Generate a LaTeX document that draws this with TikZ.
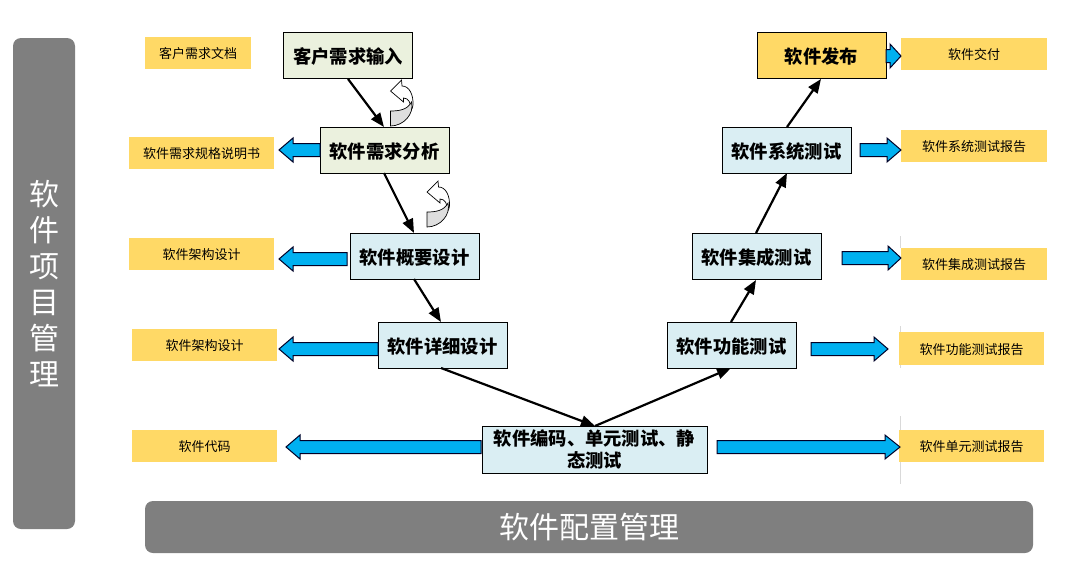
\documentclass[tikz,border=0pt]{standalone}
\usepackage{fontspec}
\setmainfont{Noto Sans CJK SC}
\usetikzlibrary{arrows.meta}
\definecolor{panelgray}{HTML}{7F7F7F}
\definecolor{noteyellow}{HTML}{FFD966}
\definecolor{stepgreen}{HTML}{EBF1DE}
\definecolor{stepblue}{HTML}{DAEEF3}
\definecolor{arrowblue}{HTML}{00B0F0}
\tikzset{
  stepbox/.style={draw=black,line width=1pt,minimum width=129pt,minimum height=46pt,inner sep=0pt,align=center,font=\fontsize{18.3}{22}\selectfont\bfseries},
  oneline/.style={text height=18pt,text depth=2pt},
  greenbox/.style={stepbox,oneline,fill=stepgreen},
  bluebox/.style={stepbox,oneline,fill=stepblue},
  widebox/.style={stepbox,fill=stepblue,minimum width=225pt,minimum height=47pt},
  yellowbox/.style={stepbox,oneline,fill=noteyellow},
  note/.style={fill=noteyellow,minimum width=145pt,minimum height=32pt,inner sep=0pt,text height=13.4pt,text depth=1.6pt,font=\fontsize{13}{15}\selectfont},
  flow/.style={-{Triangle[length=14pt,width=11pt]},line width=2.2pt,black},
  panel/.style={fill=panelgray,rounded corners=8pt,text=white,inner sep=0pt,align=center},
  blockarrow/.style={fill=arrowblue,draw=black!85!blue,line width=1pt,line join=miter},
  guide/.style={draw=black!15,line width=0.8pt},
  turnlight/.style={fill=white,draw=black,line width=0.7pt},
  turndark/.style={fill=black!13,draw=black,line width=0.7pt}
}
% horizontal block arrow: tail x, tip x, y, head base x
\newcommand{\blockarrowh}[4]{%
  \draw[blockarrow] (#1,#3-6.5) -- (#4,#3-6.5) -- (#4,#3-12) -- (#2,#3) -- (#4,#3+12) -- (#4,#3+6.5) -- (#1,#3+6.5) -- cycle;}
% curved U-turn symbol, origin at its lower left corner
\newcommand{\turnarrow}[2]{%
  \begin{scope}[shift={(#1,#2)}]
    \draw[turnlight] (0,-35) -- (11,-46) -- (11.5,-40) .. controls (19,-40) and (23,-31) .. (22.5,-21)
      .. controls (22,-17) and (20,-15) .. (20,-15) .. controls (21,-23) and (18,-28) .. (13,-28) -- (13,-24) -- cycle;
    \draw[turndark] (0,-15) .. controls (8,-15) and (17,-16) .. (21,-24)
      .. controls (24,-12) and (13,0) .. (0,0) -- cycle;
  \end{scope}}
\begin{document}
\begin{tikzpicture}[x=1pt,y=-1pt]
\useasboundingbox (0,0) rectangle (1066,573);
% panels
\node[panel,minimum width=62pt,minimum height=491pt,font=\fontsize{30}{36}\selectfont] (pm) at (44,283.5) {软\\件\\项\\目\\管\\理};
\node[panel,minimum width=888pt,minimum height=52pt,font=\fontsize{30}{36}\selectfont] (cm) at (589,527) {软件配置管理};
% process boxes
\node[greenbox] (req) at (348,55.5) {客户需求输入};
\node[greenbox] (ana) at (384.5,150) {软件需求分析};
\node[bluebox] (hld) at (414.5,256) {软件概要设计};
\node[bluebox] (dld) at (442.5,345) {软件详细设计};
\node[widebox] (cod) at (594.5,449.5) {软件编码、单元测试、静\\态测试};
\node[bluebox] (fun) at (731.5,345) {软件功能测试};
\node[bluebox] (int) at (756.5,256) {软件集成测试};
\node[bluebox] (sys) at (786.5,150) {软件系统测试};
\node[yellowbox] (rel) at (821.5,55) {软件发布};
% notes
\node[note,minimum width=106pt] (n1) at (198,53) {客户需求文档};
\node[note] (n2) at (201.5,153) {软件需求规格说明书};
\node[note] (n3) at (201.5,254) {软件架构设计};
\node[note] (n4) at (204.5,345) {软件架构设计};
\node[note] (n5) at (204.5,446) {软件代码};
\node[note,minimum width=146pt] (o1) at (974,54) {软件交付};
\node[note,minimum width=146pt] (o2) at (974,146) {软件系统测试报告};
\node[note,minimum width=146pt] (o3) at (974,264) {软件集成测试报告};
\node[note,minimum height=33pt] (o4) at (971.5,348.5) {软件功能测试报告};
\node[note] (o5) at (971.5,446) {软件单元测试报告};
% thin guides
\draw[guide] (900.5,236) -- (900.5,248);
\draw[guide] (900.5,326) -- (900.5,332) (900.5,365) -- (900.5,368);
\draw[guide] (900.5,416) -- (900.5,430) (900.5,462) -- (900.5,484);
% flow arrows
\draw[flow] (348,79) -- (384,127);
\draw[flow] (384,173) -- (414,233);
\draw[flow] (414,279) -- (441,322);
\draw[flow] (441,368) -- (595,426);
\draw[flow] (595,426) -- (731,368);
\draw[flow] (731,322) -- (756,280);
\draw[flow] (756,233) -- (787,173);
\draw[flow] (787,127) -- (821,79);
% block arrows
\blockarrowh{320}{279}{150}{293}
\blockarrowh{347}{279}{259}{293}
\blockarrowh{378}{279}{349}{293}
\blockarrowh{481}{286}{447}{300}
\blockarrowh{717}{900}{447}{885}
\blockarrowh{811}{888}{349}{874}
\blockarrowh{842}{901}{258}{888}
\blockarrowh{860}{901}{150}{887}
\blockarrowh{886}{901}{56}{890}
% turn symbols
\turnarrow{390.5}{126}
\turnarrow{427}{227}
\end{tikzpicture}
\end{document}
